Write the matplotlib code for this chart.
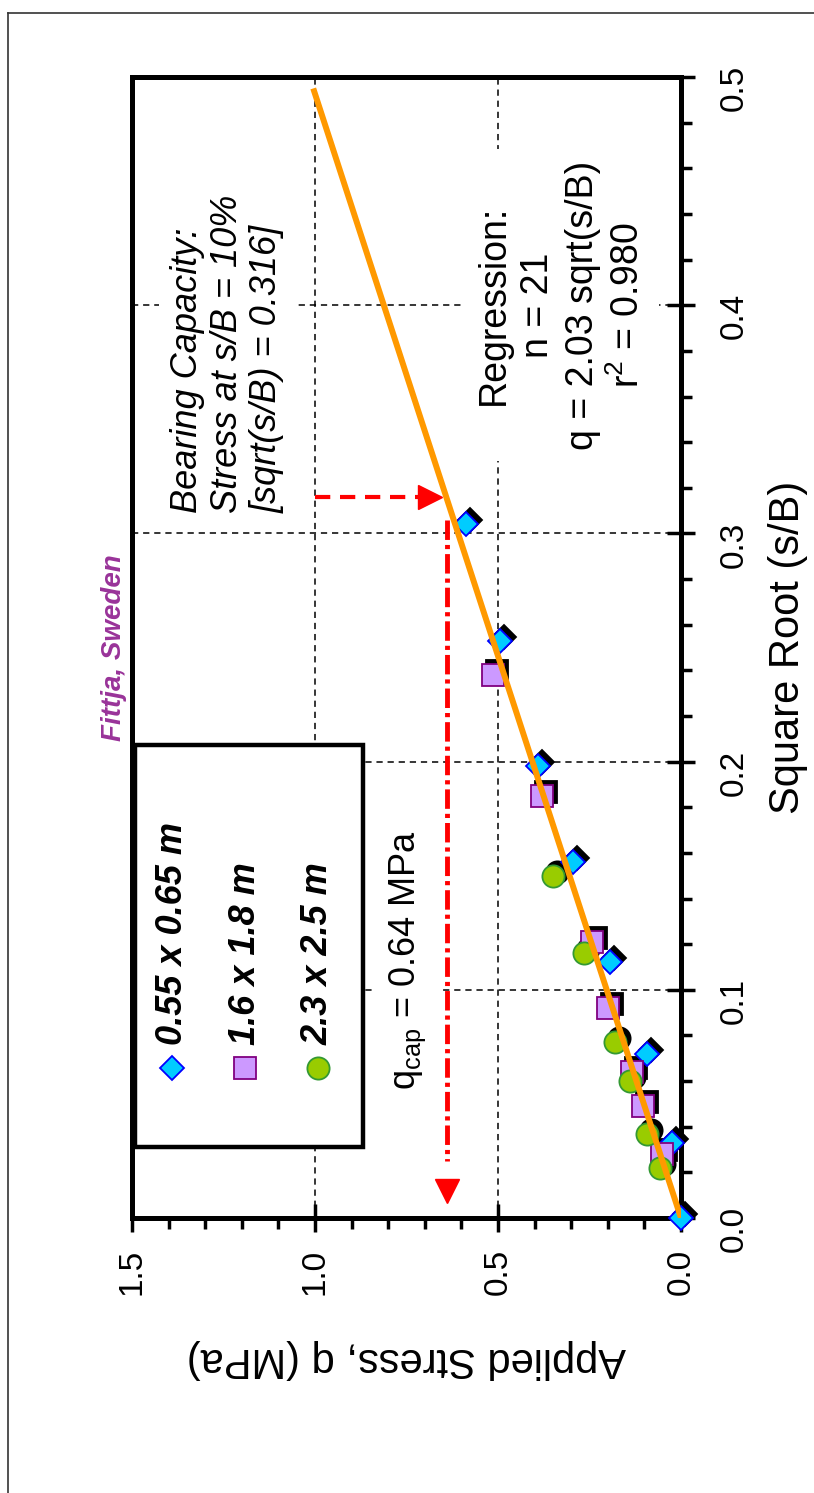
import matplotlib
matplotlib.use('Agg')
import matplotlib.pyplot as plt
import matplotlib.transforms as mtransforms
from matplotlib.lines import Line2D
from matplotlib.patches import Rectangle
from matplotlib.ticker import MultipleLocator, FormatStrFormatter

plt.rcParams['font.family'] = ['Liberation Sans', 'DejaVu Sans']
plt.rcParams['mathtext.fontset'] = 'custom'
plt.rcParams['mathtext.rm'] = 'Liberation Sans'
plt.rcParams['mathtext.it'] = 'Liberation Sans:italic'
plt.rcParams['lines.scale_dashes'] = False

# square root (s/B) and applied stress q (MPa), one pair per footing size
sq_small = [0.0, 0.033, 0.072, 0.112, 0.156, 0.198, 0.253, 0.304]
q_small = [0.0, 0.025, 0.094, 0.193, 0.294, 0.390, 0.495, 0.587]
sq_mid = [0.028, 0.049, 0.064, 0.092, 0.121, 0.185, 0.238]
q_mid = [0.053, 0.103, 0.135, 0.199, 0.243, 0.381, 0.514]
sq_big = [0.022, 0.037, 0.060, 0.077, 0.116, 0.150]
q_big = [0.057, 0.094, 0.139, 0.180, 0.266, 0.349]

labels = ['0.55 x 0.65 m', '1.6 x 1.8 m', '2.3 x 2.5 m']

# regression q = slope * sqrt(s/B)
slope = 2.03
r2 = 0.980
sq_fit = [0.0, 0.495]

# bearing capacity at s/B = 10 %
sq_cap = 0.316
q_cap = 0.64

n = len(sq_small) + len(sq_mid) + len(sq_big)

styles = [
    dict(marker='D', ms=12, mfc='#00CCFF', mec='#0000FF', mew=1.3),
    dict(marker='s', ms=16, mfc='#CC99FF', mec='#800080', mew=1.3),
    dict(marker='o', ms=16, mfc='#99CC00', mec='#339933', mew=1.3),
]

fig = plt.figure(figsize=(8.14, 14.93), dpi=100)
ax = fig.add_axes([0.1622, 0.1842, 0.6744, 0.7642])

# the chart is drawn turned a quarter turn: stress runs right-to-left, sqrt(s/B) upward
ax.set_xlim(1.5, 0)
ax.set_ylim(0, 0.5)

shadow = mtransforms.offset_copy(ax.transData, fig=fig, x=4, y=4, units='dots')
series = [(q_small, sq_small), (q_mid, sq_mid), (q_big, sq_big)]
for (qq, ss), st in zip(series, styles):
    sh = dict(st)
    sh.update(mfc='black', mec='black')
    ax.plot(qq, ss, ls='none', transform=shadow, clip_on=False, zorder=3, **sh)
    ax.plot(qq, ss, ls='none', clip_on=False, zorder=3.1, **st)

ax.plot([slope * s for s in sq_fit], sq_fit, color='#FF9900', lw=4.3, zorder=4,
        solid_capstyle='butt')

# red arrows
ax.plot([1.0, 0.70], [sq_cap, sq_cap], color='red', lw=3, dashes=(11, 7), zorder=5)
ax.plot([0.685], [sq_cap], marker='>', ms=17, color='red', ls='none', zorder=5)
ax.plot([q_cap, q_cap], [0.306, 0.025], color='red', lw=3.5,
        dashes=(14, 3.6, 3, 3.6), zorder=5)
ax.plot([q_cap], [0.012], marker='v', ms=17, color='red', ls='none', zorder=5,
        clip_on=False)

# axes styling
ax.xaxis.set_major_locator(MultipleLocator(0.5))
ax.xaxis.set_minor_locator(MultipleLocator(0.1))
ax.yaxis.set_major_locator(MultipleLocator(0.1))
ax.yaxis.set_minor_locator(MultipleLocator(0.02))
ax.xaxis.set_major_formatter(FormatStrFormatter('%.1f'))
ax.yaxis.set_major_formatter(FormatStrFormatter('%.1f'))
ax.yaxis.tick_right()
ax.yaxis.set_label_position('right')
for sp in ax.spines.values():
    sp.set_linewidth(3.6)
ax.tick_params(which='major', direction='inout', length=20, width=2.5, labelsize=24)
ax.tick_params(which='minor', direction='out', length=8, width=2.5)
ax.tick_params(axis='x', labelrotation=90, pad=12)
ax.tick_params(axis='y', labelrotation=90, pad=17)
ax.set_axisbelow(True)
ax.grid(True, which='major', color='black', linestyle=(0, (4.5, 3.5)), linewidth=1.1)

ax.set_xlabel('Applied Stress, q (MPa)', fontsize=30, rotation=180, labelpad=32)
ax.set_ylabel('Square Root (s/B)', fontsize=30, rotation=90, labelpad=13)

ax.text(-0.02, 0.5, 'Fittja, Sweden', transform=ax.transAxes, rotation=90,
        rotation_mode='anchor', ha='center', va='baseline', fontsize=20,
        fontweight='bold', fontstyle='italic', color='#993399')

box = dict(fc='white', ec='none', pad=8)
ax.text(1.395, 0.309, 'Bearing Capacity:\nStress at s/B = 10%\n[sqrt(s/B) = 0.316]',
        rotation=90, rotation_mode='anchor', ha='left', va='top', multialignment='left',
        fontsize=26, fontstyle='italic', linespacing=1.17, bbox=box, zorder=2)
ax.text(0.56, 0.40, 'Regression:\nn = %d\nq = %.2f sqrt(s/B)\nr$^2$ = %.3f' % (n, slope, r2),
        rotation=90, rotation_mode='anchor', ha='center', va='top', multialignment='center',
        fontsize=27, linespacing=1.3, bbox=box, zorder=2)
ax.text(0.727, 0.113, 'q$_{\\mathrm{cap}}$ = %.2f MPa' % q_cap, rotation=90,
        rotation_mode='anchor', ha='center', va='baseline', fontsize=26, bbox=box, zorder=2)

# legend box, drawn by hand so its text can turn with the chart
ax.add_patch(Rectangle((0.0055, 0.0622), 0.415, 0.352, transform=ax.transAxes,
                       fc='white', ec='black', lw=3.2, zorder=2.5))
leg_x = [0.0729, 0.2058, 0.3388]
for lx, lab, st in zip(leg_x, labels, styles):
    ax.plot([lx], [0.1315], transform=ax.transAxes, ls='none', zorder=2.6, **st)
    ax.text(lx, 0.1516, lab, transform=ax.transAxes, rotation=90, rotation_mode='anchor',
            ha='left', va='center', fontsize=26, fontweight='bold', fontstyle='italic',
            zorder=2.6)

# outer page frame (left and top edges only)
fig.add_artist(Line2D([8 / 814, 8 / 814], [0, 1 - 13 / 1493], transform=fig.transFigure,
                      color='#333333', lw=1.2))
fig.add_artist(Line2D([8 / 814, 1], [1 - 13 / 1493, 1 - 13 / 1493], transform=fig.transFigure,
                      color='#333333', lw=1.2))

fig.savefig('out.png', dpi=100)
